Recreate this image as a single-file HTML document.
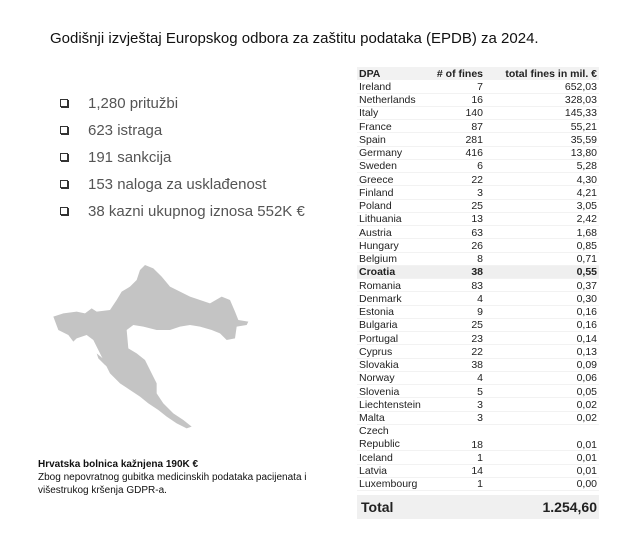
<!DOCTYPE html>
<html><head><meta charset="utf-8"><style>
body{margin:0;width:627px;height:540px;background:#fff;position:relative;font-family:"Liberation Sans",Arial,sans-serif;overflow:hidden}
.t{position:absolute;left:50px;top:30px;font-size:15px;color:#111}
.b{position:absolute;left:60px;font-size:15px;color:#555}
.b span{display:inline-block;width:6px;height:6px;border:1px solid #333;margin-right:20px;vertical-align:middle;position:relative;top:-1px;box-shadow:1px 1px 0 #333}
table{position:absolute;left:357px;top:67px;border-collapse:collapse;border-spacing:0;font-size:10.5px;color:#222}
tr{height:13.25px}
td{padding:0 2px;line-height:12px;box-shadow:inset 0 -1px 0 #f2f2f2}
td:nth-child(1){width:60px}
td:nth-child(2){width:58px;text-align:right}
td:nth-child(3){width:110px;text-align:right}
tr.h td{font-weight:bold;background:#f2f2f2}
tr.c td{font-weight:bold;background:#efefef}
tr.tot{height:24px}
tr.tot td{font-weight:bold;font-size:14px;background:#f0f0f0;box-shadow:none}
.cap{position:absolute;left:38px;top:458px;font-size:10px;color:#111;line-height:13px}
</style></head><body>
<div class="t">Godišnji izvještaj Europskog odbora za zaštitu podataka (EPDB) za 2024.</div>
<div class="b" style="top:95px"><span></span>1,280 pritužbi</div>
<div class="b" style="top:122px"><span></span>623 istraga</div>
<div class="b" style="top:149px"><span></span>191 sankcija</div>
<div class="b" style="top:176px"><span></span>153 naloga za usklađenost</div>
<div class="b" style="top:203px"><span></span>38 kazni ukupnog iznosa 552K €</div>
<svg style="position:absolute;left:30px;top:250px" width="300" height="260" viewBox="0 0 900 780">
<polygon fill="#c4c4c4" points="345,45 370,55 395,80 420,110 450,125 480,140 510,150 540,160 575,140 600,150 615,185 625,210 655,215 650,225 620,230 615,265 590,270 570,250 545,240 510,230 480,225 450,230 420,240 380,240 340,230 310,225 290,240 295,295 320,310 345,330 365,370 380,400 380,430 400,460 430,490 460,510 485,530 470,535 440,520 410,500 385,480 355,460 330,440 300,420 270,400 240,370 220,330 205,300 190,270 170,255 140,265 130,275 115,255 85,240 70,200 100,190 140,185 165,190 185,175 200,185 240,180 260,150 275,125 300,110 320,90 330,60"/>
<polygon fill="#c4c4c4" points="200,310 230,335 260,360 250,365 225,345 205,325"/>
</svg>
<div class="cap"><b>Hrvatska bolnica kažnjena 190K €</b><br>Zbog nepovratnog gubitka medicinskih podataka pacijenata i<br>višestrukog kršenja GDPR-a.</div>
<table>
<tr class="h"><td>DPA</td><td># of fines</td><td>total fines in mil. €</td></tr>
<tr><td>Ireland</td><td>7</td><td>652,03</td></tr>
<tr><td>Netherlands</td><td>16</td><td>328,03</td></tr>
<tr><td>Italy</td><td>140</td><td>145,33</td></tr>
<tr><td>France</td><td>87</td><td>55,21</td></tr>
<tr><td>Spain</td><td>281</td><td>35,59</td></tr>
<tr><td>Germany</td><td>416</td><td>13,80</td></tr>
<tr><td>Sweden</td><td>6</td><td>5,28</td></tr>
<tr><td>Greece</td><td>22</td><td>4,30</td></tr>
<tr><td>Finland</td><td>3</td><td>4,21</td></tr>
<tr><td>Poland</td><td>25</td><td>3,05</td></tr>
<tr><td>Lithuania</td><td>13</td><td>2,42</td></tr>
<tr><td>Austria</td><td>63</td><td>1,68</td></tr>
<tr><td>Hungary</td><td>26</td><td>0,85</td></tr>
<tr><td>Belgium</td><td>8</td><td>0,71</td></tr>
<tr class="c"><td>Croatia</td><td>38</td><td>0,55</td></tr>
<tr><td>Romania</td><td>83</td><td>0,37</td></tr>
<tr><td>Denmark</td><td>4</td><td>0,30</td></tr>
<tr><td>Estonia</td><td>9</td><td>0,16</td></tr>
<tr><td>Bulgaria</td><td>25</td><td>0,16</td></tr>
<tr><td>Portugal</td><td>23</td><td>0,14</td></tr>
<tr><td>Cyprus</td><td>22</td><td>0,13</td></tr>
<tr><td>Slovakia</td><td>38</td><td>0,09</td></tr>
<tr><td>Norway</td><td>4</td><td>0,06</td></tr>
<tr><td>Slovenia</td><td>5</td><td>0,05</td></tr>
<tr><td>Liechtenstein</td><td>3</td><td>0,02</td></tr>
<tr><td>Malta</td><td>3</td><td>0,02</td></tr>
<tr style="height:26.5px"><td style="vertical-align:bottom;line-height:13px">Czech<br>Republic</td><td style="vertical-align:bottom">18</td><td style="vertical-align:bottom">0,01</td></tr>
<tr><td>Iceland</td><td>1</td><td>0,01</td></tr>
<tr><td>Latvia</td><td>14</td><td>0,01</td></tr>
<tr><td>Luxembourg</td><td>1</td><td>0,00</td></tr>
<tr style="height:4px"><td style="box-shadow:none"></td><td style="box-shadow:none"></td><td style="box-shadow:none"></td></tr>
<tr class="tot"><td style="padding-left:4px">Total</td><td></td><td>1.254,60</td></tr>
</table>
</body></html>
